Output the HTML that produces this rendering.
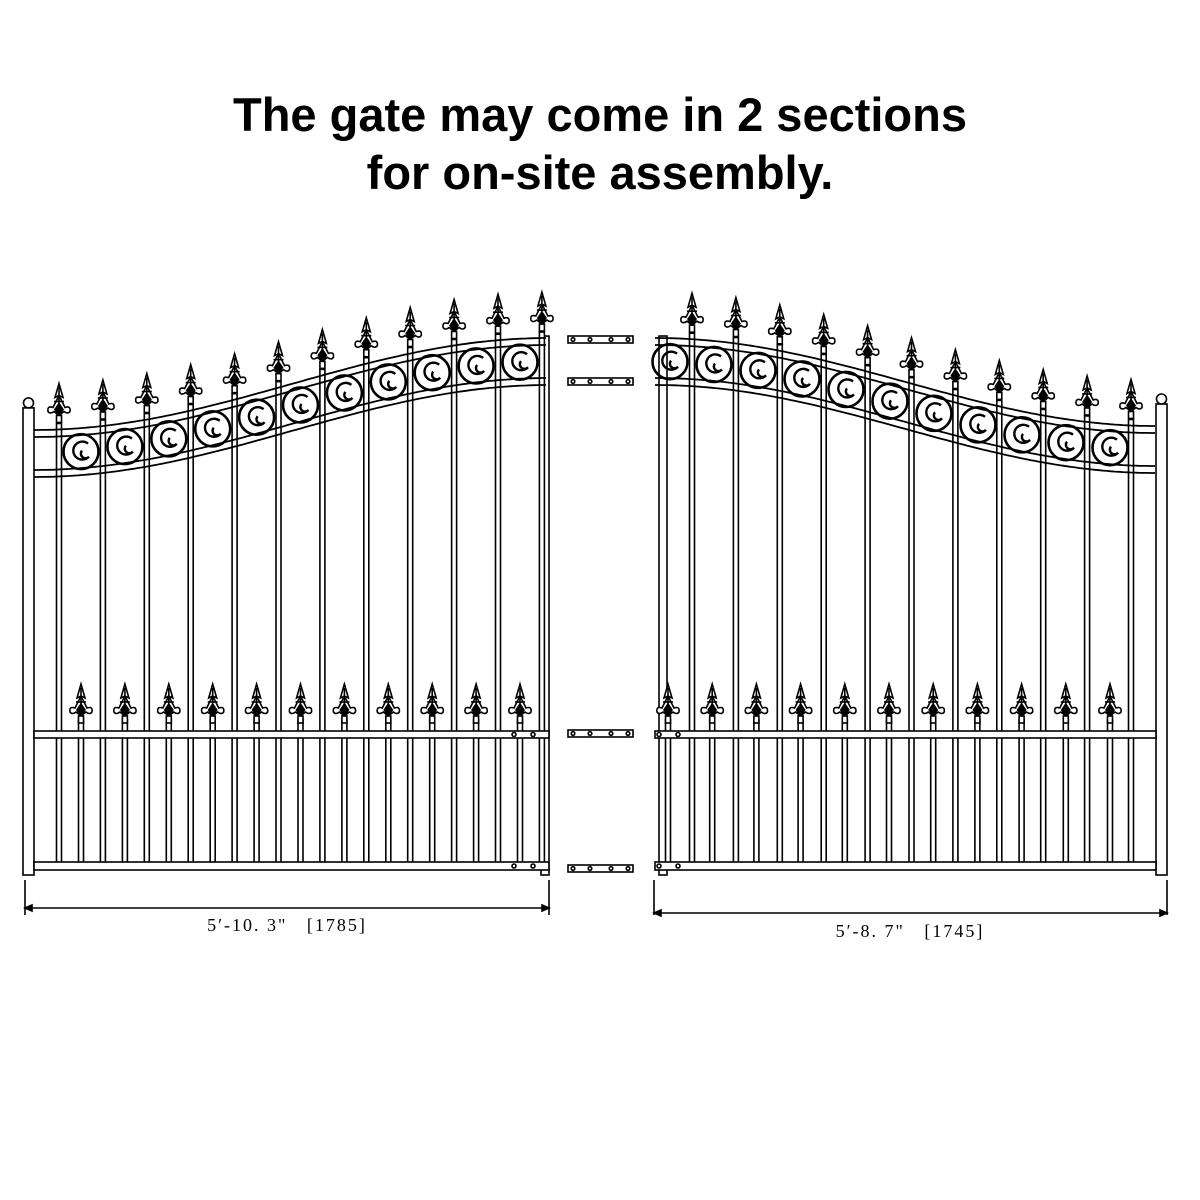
<!DOCTYPE html>
<html><head><meta charset="utf-8"><style>
html,body{margin:0;padding:0;background:#fff;width:1200px;height:1200px;overflow:hidden}
h1{position:absolute;left:0;width:1200px;top:86px;margin:0;text-align:center;font:bold 47px/58px "Liberation Sans",sans-serif;color:#000}
svg{position:absolute;left:0;top:0}
</style></head><body>
<h1>The gate may come in 2 sections<br>for on-site assembly.</h1>
<svg id="s" width="1200" height="1200" viewBox="0 0 1200 1200" fill="none" stroke="#000" stroke-width="1.6">
<text x="287" y="931" font-family="Liberation Serif,serif" font-size="18" letter-spacing="2" fill="#000" stroke="none" text-anchor="middle" xml:space="preserve">5′-10. 3"   [1785]</text>
<text x="910" y="937" font-family="Liberation Serif,serif" font-size="18" letter-spacing="2" fill="#000" stroke="none" text-anchor="middle" xml:space="preserve">5′-8. 7"   [1745]</text>
</svg>
<script>
var s=document.getElementById('s'),NS='http://www.w3.org/2000/svg';
function el(t,a){var e=document.createElementNS(NS,t);for(var k in a)e.setAttribute(k,a[k]);s.appendChild(e);return e;}
function rect(x,y,w,h,f){el('rect',{x:x,y:y,width:w,height:h,fill:f||'#fff'});}
function line(a,b,c,d){el('line',{x1:a,y1:b,x2:c,y2:d});}
function spear(x,tip){
 var y=tip;
 el('path',{d:'M'+x+' '+y+' L'+(x-4)+' '+(y+14)+' L'+x+' '+(y+12)+' L'+(x+4)+' '+(y+14)+' Z',fill:'#fff'});
 el('path',{d:'M'+x+' '+(y+12)+' L'+(x-6)+' '+(y+24)+' Q'+(x-12)+' '+(y+22)+' '+(x-11)+' '+(y+28)+' Q'+(x-9)+' '+(y+31)+' '+(x-5)+' '+(y+28)+' L'+x+' '+(y+32)+' L'+(x+5)+' '+(y+28)+' Q'+(x+9)+' '+(y+31)+' '+(x+11)+' '+(y+28)+' Q'+(x+12)+' '+(y+22)+' '+(x+6)+' '+(y+24)+' Z',fill:'#fff'});
 el('path',{d:'M'+(x-4)+' '+(y+26)+' L'+x+' '+(y+20)+' L'+(x+4)+' '+(y+26)+' L'+x+' '+(y+32)+' Z',fill:'#000'});
 line(x,y+4,x,y+30);line(x-5,y+18,x+5,y+18);
 rect(x-2.5,y+32,5,7);
}
function scroll(cx,cy){
 el('circle',{cx:cx,cy:cy,r:17.5,'stroke-width':2.6});
 el('path',{d:'M'+(cx+7)+' '+(cy-8)+' A9 9 0 1 0 '+(cx+8)+' '+(cy+5)+' A4.5 4.5 0 1 1 '+(cx+1)+' '+(cy-1),'stroke-width':2.4});
}
function gate(o){
 var xa=o.xa,xb=o.xb,yA=o.yA,yB=o.yB;
 function yt(x){var t=(x-xa)/(xb-xa);return yA-(yA-yB)*(1-Math.cos(Math.PI*t))/2;}
 function cpath(off){var d='';for(var x=xa;x<=xb+0.1;x+=4){d+=(d?'L':'M')+x+' '+(yt(x)+off).toFixed(1);}return d;}
 rect(o.px,yt(o.px)-22,o.pw,875-(yt(o.px)-22));
 el('circle',{cx:o.px+o.pw/2,cy:yt(o.px)-27,r:5,fill:'#fff'});
 rect(o.sx,yt(o.sx)-2,8,875-yt(o.sx)+2);
 o.pk.forEach(function(x){rect(x-2.5,yt(x)-6,5,866-yt(x)+6);spear(x,yt(x)-46);});
 o.sp.forEach(function(x){rect(x-2.5,720,5,146);spear(x,684);});
 [0,7,40,47].forEach(function(off){el('path',{d:cpath(off),'stroke-width':1.8});});
 o.sc.forEach(function(x){scroll(x,yt(x)+23.5);});
 rect(xa,731,xb-xa,7);rect(xa,862,xb-xa,8);
 el('circle',{cx:o.h1,cy:734.5,r:2});el('circle',{cx:o.h2,cy:734.5,r:2});
 el('circle',{cx:o.h1,cy:866,r:2});el('circle',{cx:o.h2,cy:866,r:2});
 line(o.d1,880,o.d1,915);line(o.d2,880,o.d2,915);
 line(o.d1,o.dy,o.d2,o.dy);
 el('path',{d:'M'+o.d1+' '+o.dy+' l7 -3 v6z M'+o.d2+' '+o.dy+' l-7 -3 v6z',fill:'#000'});
}
var pkL=[],spL=[],scL=[];
for(var i=0;i<12;i++)pkL.push(59+i*43.9);
for(var i=0;i<11;i++){spL.push(81+i*43.9);scL.push(81+i*43.9);}
gate({xa:34,xb:549,yA:430,yB:338,px:23,pw:11,sx:541,pk:pkL,sp:spL,sc:scL,h1:514,h2:533,d1:25,d2:549,dy:908});
var pkR=[],spR=[],scR=[];
for(var i=0;i<11;i++)pkR.push(692+i*43.9);
for(var i=0;i<11;i++){spR.push(668+i*44.2);scR.push(670+i*44);}
gate({xa:655,xb:1156,yA:338,yB:426,px:1156,pw:11,sx:659,pk:pkR,sp:spR,sc:scR,h1:659,h2:678,d1:654,d2:1167,dy:913});
[336,378,730,865].forEach(function(y){rect(568,y,65,7);[573,590,611,628].forEach(function(x){el('circle',{cx:x,cy:y+3.5,r:1.8});});});
</script>
</body></html>
